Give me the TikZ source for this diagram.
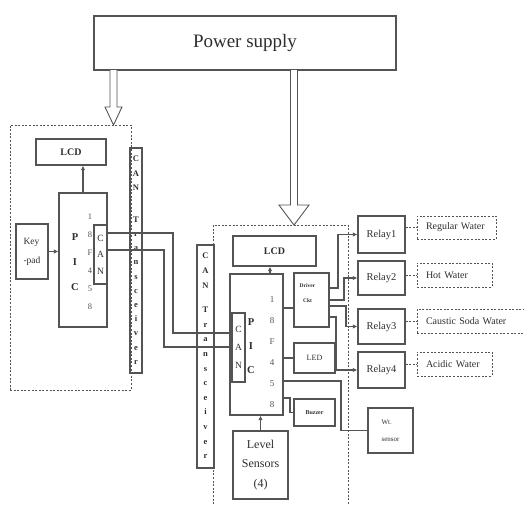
\documentclass[tikz,border=0pt]{standalone}
\usepackage{fontspec}
\setmainfont{Liberation Serif}
\usetikzlibrary{arrows.meta}
\definecolor{lc}{gray}{0.33}
\definecolor{tc}{gray}{0.18}
\tikzset{
  box/.style={draw=lc, line width=1.3pt, inner sep=0pt, text=tc},
  dbox/.style={draw=lc, line width=0.8pt, dash pattern=on 2pt off 1.6pt},
  wire/.style={draw=lc, line width=1.2pt},
  arr/.style={wire, -{Latex[length=4.5pt,width=4.5pt]}},
  hollow/.style={draw=lc, line width=0.9pt, fill=white, line join=miter},
  txt/.style={inner sep=0pt, text=tc, align=center},
}
\begin{document}
\begin{tikzpicture}[x=1pt,y=-1pt]
\useasboundingbox (0,0) rectangle (524,504);

% power supply
\node[box, minimum width=302pt, minimum height=54pt, font=\fontsize{19}{19}\selectfont] (power) at (245,43) {Power supply};

% dashed groups
\node[dbox, minimum width=121pt, minimum height=265pt] (dashL) at (70.5,257.5) {};
\draw[dbox] (213,515) -- (213,225) -- (348,225) -- (348,515);

% hollow power arrows
\draw[hollow] (110,70) -- (110,107) -- (105,107) -- (113.5,125) -- (122,107) -- (117,107) -- (117,70);
\draw[hollow] (290.5,70) -- (290.5,205) -- (279,205) -- (294,225) -- (309,205) -- (297.5,205) -- (297.5,70);

% ---------- left node ----------
\node[box, minimum width=70pt, minimum height=26pt, font=\bfseries\fontsize{10}{10}\selectfont] (lcdL) at (71,152) {LCD};
\node[box, minimum width=12pt, minimum height=225pt] (transL) at (136,260.5) {};
\node[txt, anchor=north, font=\bfseries\fontsize{8.5}{14.2}\selectfont] (transLt) at (136,156)
  {C\\A\\N\\[17.8pt]T\\r\\a\\n\\s\\c\\e\\i\\v\\e\\r};
\node[box, minimum width=48pt, minimum height=134pt] (picL) at (83,260) {};
\node[txt, font=\bfseries\fontsize{10.5}{25}\selectfont] (picLt) at (75,262) {P\\I\\C};
\node[txt, text=lc, font=\fontsize{8.5}{18}\selectfont] (picLn) at (90,262) {1\\8\\F\\4\\5\\8};
\node[box, fill=white, minimum width=13pt, minimum height=59pt, font=\fontsize{9.5}{16.5}\selectfont, align=center] (canL) at (100.5,254.5) {C\\A\\N};
\node[box, minimum width=32pt, minimum height=55pt, font=\fontsize{9.5}{19}\selectfont, align=left] (keypad) at (32,251.5) {Key\\-pad};

\draw[arr] (keypad.east) -- (keypad.east -| picL.west);
\draw[arr] (picL.north) -- (picL.north |- lcdL.south);

% CAN bus
\draw[wire] (canL.east |- 0,233) -| (173,333) -- (232,333);
\draw[wire] (canL.east |- 0,250) -| (164,347) -- (232,347);

% ---------- right node ----------
\node[box, minimum width=17pt, minimum height=223pt] (transR) at (205.5,356.5) {};
\node[txt, anchor=north, font=\bfseries\fontsize{8.5}{14.6}\selectfont] (transRt) at (205.5,253)
  {C\\A\\N\\[10pt]T\\r\\a\\n\\s\\c\\e\\i\\v\\e\\r};
\node[box, minimum width=83pt, minimum height=30pt, font=\bfseries\fontsize{10}{10}\selectfont] (lcdR) at (274.5,251) {LCD};
\node[box, minimum width=53pt, minimum height=141pt] (picR) at (256.5,344.5) {};
\node[txt, font=\bfseries\fontsize{10.5}{24}\selectfont] (picRt) at (251,346) {P\\I\\C};
\node[txt, text=lc, font=\fontsize{9}{21}\selectfont] (picRn) at (272,352.5) {1\\8\\F\\4\\5\\8};
\node[box, fill=white, minimum width=13pt, minimum height=69pt, font=\fontsize{9.5}{18}\selectfont, align=center] (canR) at (238.5,347.5) {C\\A\\N};
\node[box, minimum width=35pt, minimum height=54pt,
  label={[txt, anchor=north, font=\bfseries\fontsize{5.5}{15}\selectfont, yshift=-11pt, xshift=-4pt]north:Driver\\Ckt}] (driver) at (311.5,300) {};
\node[box, minimum width=41pt, minimum height=30pt, font=\fontsize{8}{8}\selectfont] (led) at (314.5,358) {LED};
\node[box, minimum width=41pt, minimum height=27pt, font=\bfseries\fontsize{6}{6}\selectfont] (buzzer) at (314.5,412.5) {Buzzer};
\node[box, minimum width=55pt, minimum height=68pt, font=\fontsize{12}{19.5}\selectfont, align=center] (level) at (260.5,465) {Level\\Sensors\\(4)};
\node[box, minimum width=45pt, minimum height=45pt, font=\fontsize{7}{17}\selectfont, align=left] (wt) at (390.5,430.5) {Wt.\\sensor};

\draw[arr] ([xshift=13.5pt]picR.north) -- ([xshift=13.5pt]picR.north |- lcdR.south);
\draw[arr] (level.north) -- (level.north |- picR.south);
\draw[wire] (picR.east |- 0,308) -- (driver.west |- 0,308);
\draw[wire] (picR.east |- led.west) -- (led.west);
\draw[wire] (picR.east |- 0,398) -| (290,412.5) -- (buzzer.west);
\draw[wire] (picR.east |- 0,381) -| (341,430.5) -- (wt.west);

% relays
\tikzset{relay/.style={box, minimum width=47pt, font=\fontsize{10.5}{10.5}\selectfont}}
\node[relay, minimum height=37pt] (relay1) at (381.5,234.5) {Relay1};
\node[relay, minimum height=34pt] (relay2) at (381.5,278) {Relay2};
\node[relay, minimum height=35pt] (relay3) at (381.5,326.5) {Relay3};
\node[relay, minimum height=36pt] (relay4) at (381.5,370) {Relay4};

\draw[arr] (driver.east |- 0,288) -| (338,0 |- relay1.west) -- (relay1.west);
\draw[arr] (driver.east |- 0,300) -| (344,0 |- relay2.west) -- (relay2.west);
\draw[arr] (driver.east |- 0,306) -| (346,0 |- relay3.west) -- (relay3.west);
\draw[arr] (driver.east |- 0,317) -| (336,0 |- relay4.west) -- (relay4.west);

% water outputs
\tikzset{water/.style={dbox, text=tc, inner ysep=0pt, inner xsep=9pt, align=left, font=\fontsize{10}{10}\selectfont}}
\node[water, text width=61pt, minimum height=23pt] (water1) at (456.5,227.5) {Regular Water};
\node[water, text width=57pt, minimum height=24pt] (water2) at (454.5,275) {Hot Water};
\node[water, text width=105pt, minimum height=24pt] (water3) at (478.5,321) {Caustic Soda Water};
\node[water, text width=57pt, minimum height=24pt] (water4) at (454.5,364) {Acidic Water};

\draw[dbox] (relay1.east |- water1.west) -- (water1.west);
\draw[dbox] (relay2.east |- water2.west) -- (water2.west);
\draw[dbox] (relay3.east |- water3.west) -- (water3.west);
\draw[dbox] (relay4.east |- water4.west) -- (water4.west);
\end{tikzpicture}
\end{document}
